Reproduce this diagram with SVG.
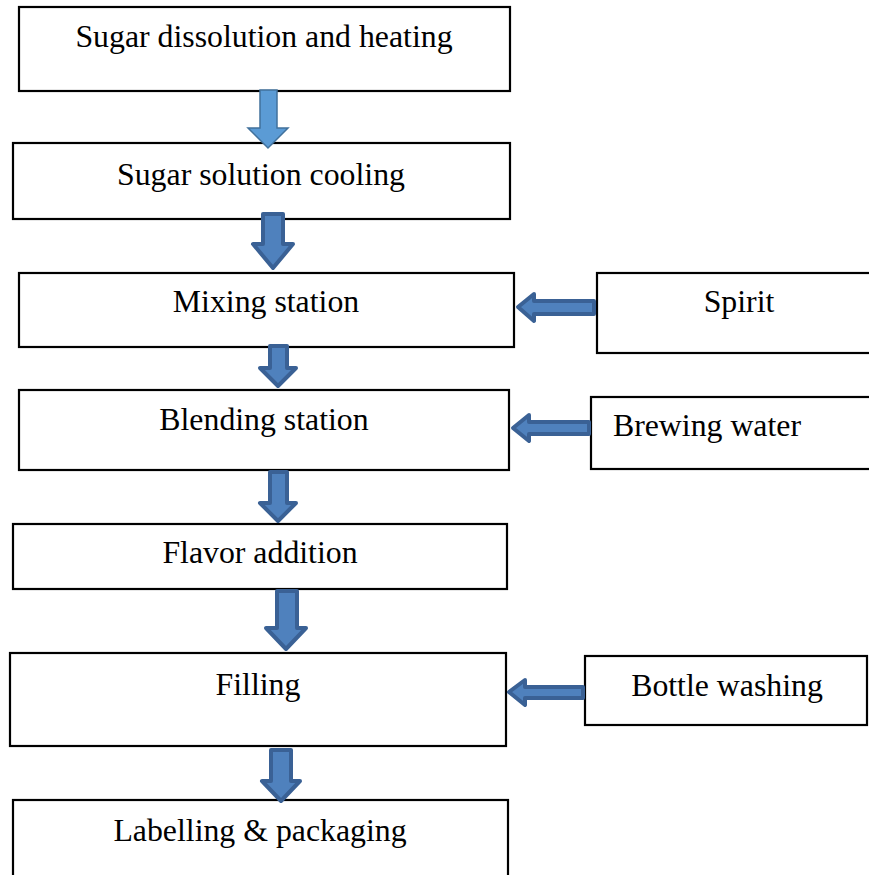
<svg xmlns="http://www.w3.org/2000/svg" width="869" height="875" viewBox="0 0 869 875">
<style>
.box{fill:#fff;stroke:#000;stroke-width:2.2}
.t{font-family:"Liberation Serif","Times New Roman",serif;font-size:31.8px;fill:#000;text-anchor:middle}
.ar{fill:#4F81BD;stroke:#3A6195;stroke-width:4;stroke-linejoin:round}
.ar1{fill:#5B9BD5;stroke:#41719C;stroke-width:1.5}
</style>
<rect width="869" height="875" fill="#fff"/>
<g id="n1"><rect class="box" x="19" y="7" width="491" height="84"/><text class="t" x="264" y="47">Sugar dissolution and heating</text></g>
<g id="n2"><rect class="box" x="13" y="143" width="497" height="76"/><text class="t" x="261" y="185">Sugar solution cooling</text></g>
<g id="n3"><rect class="box" x="19" y="273" width="495" height="74"/><text class="t" x="266" y="312">Mixing station</text></g>
<g id="n4"><rect class="box" x="19" y="390" width="490" height="80"/><text class="t" x="264" y="430">Blending station</text></g>
<g id="n5"><rect class="box" x="13" y="524" width="494" height="65"/><text class="t" x="260" y="563">Flavor addition</text></g>
<g id="n6"><rect class="box" x="10" y="653" width="496" height="93"/><text class="t" x="258" y="695">Filling</text></g>
<g id="n7"><rect class="box" x="13" y="800" width="495" height="80"/><text class="t" x="260" y="841">Labelling &amp; packaging</text></g>
<g id="s1"><rect class="box" x="597" y="273" width="275" height="80"/><text class="t" x="739" y="312">Spirit</text></g>
<g id="s2"><rect class="box" x="591" y="397" width="281" height="72"/><text class="t" x="707" y="436">Brewing water</text></g>
<g id="s3"><rect class="box" x="585" y="656" width="282" height="69"/><text class="t" x="727" y="696">Bottle washing</text></g>
<g id="connectors">
<polygon class="ar1" points="260,90 277,90 277,128 288,128 268,148 248,128 260,128"/>
<polygon class="ar" points="263,214 283,214 283,244 293,244 273,268 253,244 263,244"/>
<polygon class="ar" points="270,346 287,346 287,368 296,368 278,386 260,368 270,368"/>
<polygon class="ar" points="270,472 287,472 287,503 296,503 278,521 260,503 270,503"/>
<polygon class="ar" points="277,591 297,591 297,628 306,628 286,649 266,628 277,628"/>
<polygon class="ar" points="271,750 291,750 291,781 300,781 281,801 262,781 271,781"/>
<polygon class="ar" points="594,301 534,301 534,294 518,307 534,321 534,314 594,314"/>
<polygon class="ar" points="589,422 529,422 529,415 513,428 529,441 529,434 589,434"/>
<polygon class="ar" points="583,687 525,687 525,680 509,692 525,705 525,698 583,698"/>
</g>
</svg>
